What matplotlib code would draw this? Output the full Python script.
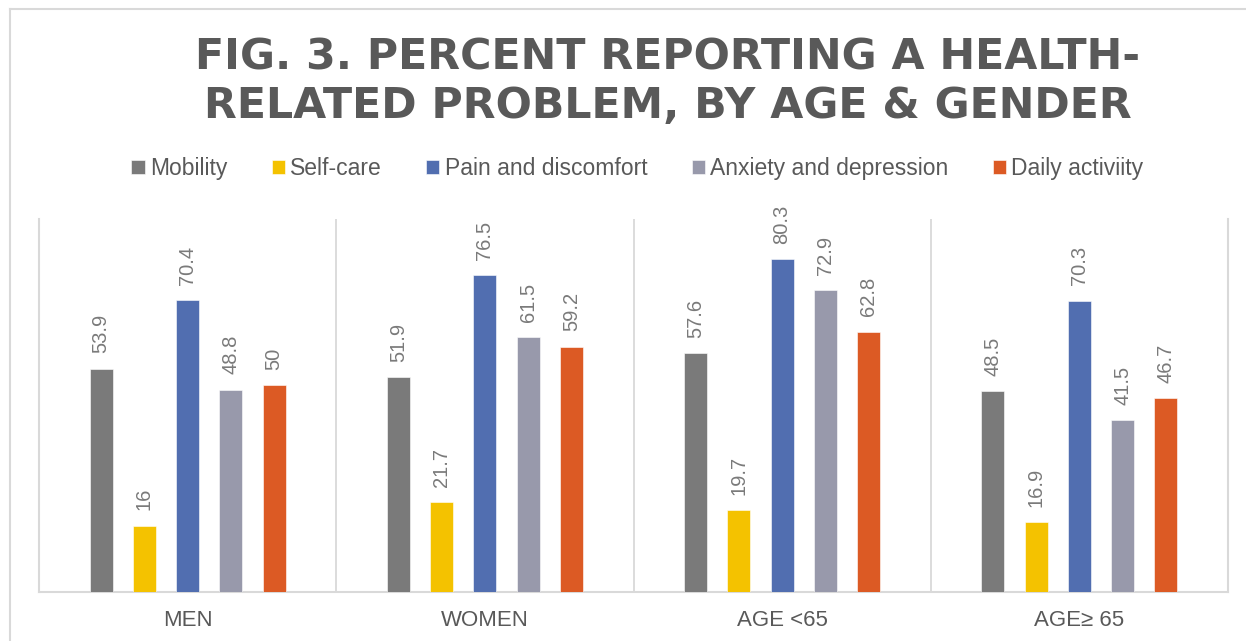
import matplotlib
matplotlib.use("Agg")
import matplotlib.pyplot as plt
from matplotlib.lines import Line2D
import numpy as np

categories = ["MEN", "WOMEN", "AGE <65", "AGE\u2265 65"]
series_names = ["Mobility", "Self-care", "Pain and discomfort",
                "Anxiety and depression", "Daily activiity"]
mobility = [53.9, 51.9, 57.6, 48.5]
self_care = [16, 21.7, 19.7, 16.9]
pain = [70.4, 76.5, 80.3, 70.3]
anxiety = [48.8, 61.5, 72.9, 41.5]
daily = [50, 59.2, 62.8, 46.7]
series_values = [mobility, self_care, pain, anxiety, daily]
colors = ["#7a7a7a", "#f4c200", "#516eb0", "#9899ab", "#dc5a24"]

W, H = 1246, 641
fig = plt.figure(figsize=(W / 100, H / 100), dpi=100)
fig.patch.set_facecolor("white")

# chart-area border (top & left visible)
fig.add_artist(Line2D([10 / W, 10 / W], [0, 1 - 9 / H], transform=fig.transFigure,
                      color="#d9d9d9", lw=1.5))
fig.add_artist(Line2D([10 / W, 1], [1 - 9 / H, 1 - 9 / H], transform=fig.transFigure,
                      color="#d9d9d9", lw=1.5))

left, right, bottom, top = 39, 1228, 592, 219
ax = fig.add_axes([left / W, 1 - bottom / H, (right - left) / W, (bottom - top) / H])

x = np.arange(len(categories))
step = 0.1457
bw = 0.0774
for i, (name, vals, c) in enumerate(zip(series_names, series_values, colors)):
    xs = x + (i - 2) * step
    ax.bar(xs, vals, width=bw, color=c, label=name, zorder=3,
           edgecolor="white", linewidth=0.4)
    for xi, v in zip(xs, vals):
        ax.annotate(f"{v:g}", (xi, v), xytext=(0, 11), textcoords="offset points",
                    rotation=90, ha="center", va="bottom", fontsize=14.5,
                    color="#7a7a7a", family=["Liberation Sans", "DejaVu Sans"])

ax.set_xlim(-0.5, len(categories) - 0.5)
ax.set_ylim(0, 90)
ax.set_yticks([])
for xv in np.arange(0.5, len(categories) - 0.5, 1):
    ax.axvline(xv, color="#d9d9d9", lw=1.3, zorder=1)
ax.spines["top"].set_visible(False)
for s in ["left", "right", "bottom"]:
    ax.spines[s].set_color("#d9d9d9")
    ax.spines[s].set_linewidth(1.5)
ax.set_xticks(x)
ax.set_xticklabels(categories, fontsize=16, color="#595959",
                   family=["Liberation Sans", "DejaVu Sans"])
ax.tick_params(axis="x", length=0, pad=13)

# title
tc = 668 / W
fig.text(tc, 1 - 70 / H, "FIG. 3. PERCENT REPORTING A HEALTH-", ha="center",
         va="baseline", fontsize=30.8, fontweight="bold", color="#595959",
         family="DejaVu Sans")
fig.text(tc, 1 - 118 / H, "RELATED PROBLEM, BY AGE & GENDER", ha="center",
         va="baseline", fontsize=30.8, fontweight="bold", color="#595959",
         family="DejaVu Sans")

leg = fig.legend(loc="center", bbox_to_anchor=(637.5 / W, 1 - 169 / H), ncol=5,
                 frameon=False, handlelength=0.57, handleheight=0.57,
                 handletextpad=0.25, columnspacing=1.92,
                 prop={"family": "Liberation Sans", "size": 16.5})
for t in leg.get_texts():
    t.set_color("#595959")

fig.savefig("out.png", dpi=100, facecolor="white")
